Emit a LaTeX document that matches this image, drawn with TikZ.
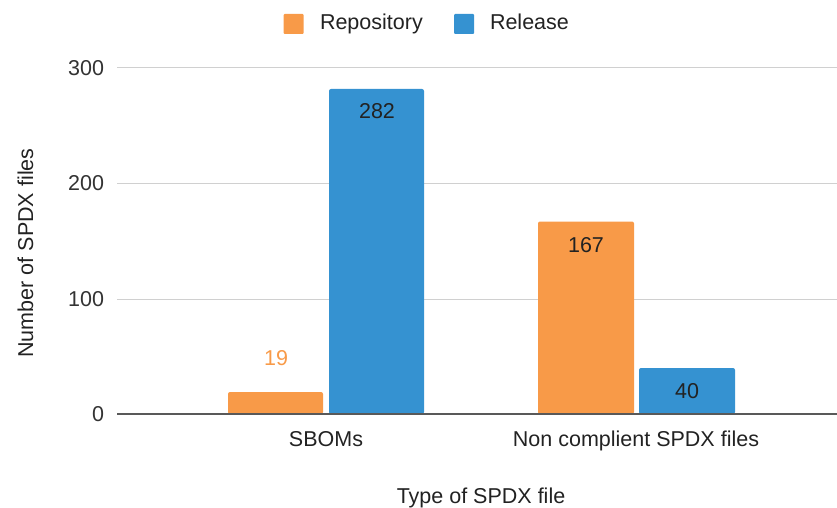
\documentclass[tikz,border=0pt]{standalone}
\usepackage{fontspec}
\setmainfont{Liberation Sans}
\definecolor{repo}{HTML}{F89A48}
\definecolor{rel}{HTML}{3592D1}
\definecolor{grid}{HTML}{D0D0D0}
\definecolor{txt}{HTML}{222222}
\begin{document}
\begin{tikzpicture}[x=1pt,y=-1pt,
  every node/.style={inner sep=0pt,outer sep=0pt,text=txt,font=\fontsize{21.5}{24}\selectfont},
  gridline/.style={draw=grid,line width=1pt},
  baseline/.style={draw=black!65,line width=1.6pt},
  repobar/.style={fill=repo,draw=none,rounded corners=2pt},
  relbar/.style={fill=rel,draw=none,rounded corners=2pt},
  ticklbl/.style={anchor=east,text=black!80},
  barlbl/.style={anchor=center},
  swatch/.style={minimum width=20pt,minimum height=20pt,rounded corners=1pt}]
\useasboundingbox (0,0) rectangle (837,508);
% grid
\coordinate (g300a) at (117,68);  \coordinate (g300b) at (837,68);
\coordinate (g200a) at (117,183); \coordinate (g200b) at (837,183);
\coordinate (g100a) at (117,299); \coordinate (g100b) at (837,299);
\coordinate (g0a) at (117,414);   \coordinate (g0b) at (837,414);
\draw[gridline] (g300a) -- (g300b);
\draw[gridline] (g200a) -- (g200b);
\draw[gridline] (g100a) -- (g100b);
% bars
\fill[repobar] (228,414) -- (228,392) -- (323,392) -- (323,414) -- cycle;
\fill[relbar] (329,414) -- (329,89) -- (424,89) -- (424,414) -- cycle;
\fill[repobar] (538,414) -- (538,221.5) -- (634,221.5) -- (634,414) -- cycle;
\fill[relbar] (639,414) -- (639,368) -- (735,368) -- (735,414) -- cycle;
\draw[baseline] (g0a) -- (g0b);
% tick labels
\node[ticklbl] (t300) at (104,68.5) {300};
\node[ticklbl] (t200) at (104,183.5) {200};
\node[ticklbl] (t100) at (104,299.5) {100};
\node[ticklbl] (t0) at (104,414.5) {0};
% bar labels
\node[barlbl,text=repo] (l19) at (276,358) {19};
\node[barlbl] (l282) at (377,111) {282};
\node[barlbl] (l167) at (586,245) {167};
\node[barlbl] (l40) at (687,391) {40};
% category labels
\node[anchor=base] (c1) at (326,446) {SBOMs};
\node[anchor=base] (c2) at (636,446) {Non complient SPDX files};
% axis titles
\node[anchor=base] (xt) at (481,503) {Type of SPDX file};
\node[rotate=90,anchor=base] (yt) at (33,253) {Number of SPDX files};
% legend
\node[swatch,fill=repo] (s1) at (293.5,24) {};
\node[anchor=base west] (lg1) at (320,30) {Repository};
\node[swatch,fill=rel] (s2) at (464,24) {};
\node[anchor=base west] (lg2) at (490,30) {Release};
\end{tikzpicture}
\end{document}
